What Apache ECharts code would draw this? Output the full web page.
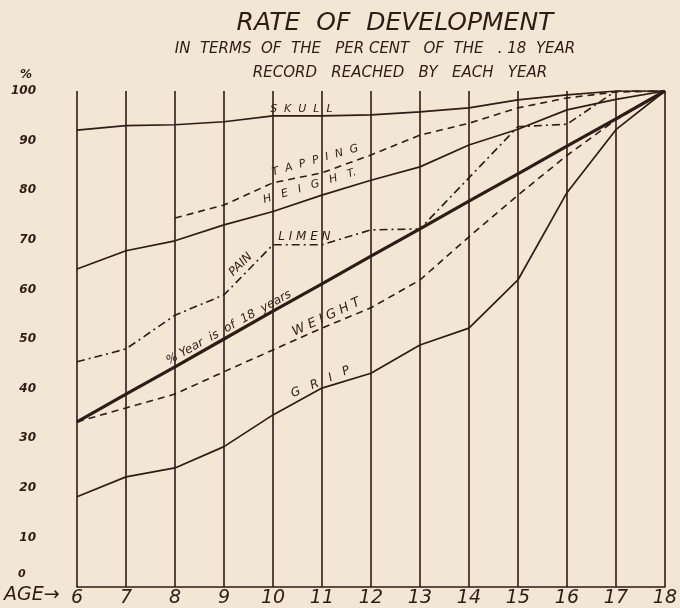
<!DOCTYPE html>
<html>
<head>
<meta charset="utf-8">
<script src="https://cdn.jsdelivr.net/npm/echarts@6/dist/echarts.min.js"></script>
<style>
  html, body { margin: 0; background: #f2e6d4; }
  #main { width: 680px; height: 608px; }
</style>
</head>
<body>
<div id="main"></div>
<script>
// ages on the x axis and percent of the 18 year record for each trait
const ages = [6, 7, 8, 9, 10, 11, 12, 13, 14, 15, 16, 17, 18];
const skull = [92.1, 93.0, 93.2, 93.8, 95.0, 95.0, 95.2, 95.8, 96.6, 98.2, 99.2, 100, 100];
const tapping = [null, null, 74.4, 77.0, 81.5, 83.5, 87.1, 91.1, 93.5, 96.6, 98.6, 99.8, 100];
const height = [64.1, 67.8, 69.8, 73.0, 75.7, 79.0, 82.0, 84.7, 89.1, 92.3, 96.2, 98.3, 100];
const painLimen = [45.4, 48.0, 54.8, 58.9, 69.0, 69.0, 72.0, 72.2, 82.5, 92.8, 93.3, 100, 100];
const yearOf18 = [33.3, 38.9, 44.4, 50.0, 55.6, 61.1, 66.7, 72.2, 77.8, 83.3, 88.9, 94.4, 100];
const weight = [33.3, 36.1, 38.9, 43.4, 47.8, 52.2, 56.3, 61.9, 70.6, 79.0, 87.0, 94.2, 100];
const grip = [18.2, 22.2, 24.0, 28.3, 34.7, 40.1, 43.1, 48.8, 52.2, 61.9, 79.5, 92.2, 100];

const ink = '#2b1d17';
const hand = '"DejaVu Sans", sans-serif';

function pts(vals) {
    return ages.map((a, i) => [a, vals[i]]).filter(p => p[1] != null);
}

function line(name, vals, width, type) {
    return {
        name: name,
        type: 'line',
        data: pts(vals),
        symbol: 'none',
        silent: true,
        lineStyle: { color: ink, width: width, type: type }
    };
}

const chart = echarts.init(document.getElementById('main'));

chart.setOption({
    backgroundColor: '#f2e6d4',
    animation: false,
    title: [
        { text: 'RATE  OF  DEVELOPMENT', left: 390, top: 6, textAlign: 'center',
          textStyle: { fontFamily: hand, fontStyle: 'italic', fontWeight: 'normal', fontSize: 25, color: ink } },
        { text: 'IN  TERMS  OF  THE   PER CENT   OF  THE   . 18  YEAR', left: 370, top: 37, textAlign: 'center',
          textStyle: { fontFamily: hand, fontStyle: 'italic', fontWeight: 'normal', fontSize: 15, color: ink } },
        { text: 'RECORD   REACHED   BY   EACH   YEAR', left: 395, top: 61, textAlign: 'center',
          textStyle: { fontFamily: hand, fontStyle: 'italic', fontWeight: 'normal', fontSize: 15, color: ink } }
    ],
    grid: { left: 77, right: 11, top: 91, bottom: 21 },
    xAxis: {
        type: 'value', min: 6, max: 18, interval: 1,
        axisLine: { lineStyle: { color: ink, width: 1.6 } },
        axisTick: { show: false },
        splitLine: { show: true, lineStyle: { color: ink, width: 1.6 } },
        axisLabel: { color: ink, fontFamily: hand, fontStyle: 'italic', fontSize: 19, margin: 2 }
    },
    yAxis: {
        type: 'value', min: 0, max: 100, interval: 10,
        axisLine: { show: false },
        axisTick: { show: false },
        splitLine: { show: false },
        axisLabel: {
            color: ink, fontFamily: hand, fontStyle: 'italic', fontWeight: 'bold', fontSize: 12, margin: 41,
            formatter: v => (v === 0 ? '' : String(v))
        }
    },
    series: [
        line('Skull', skull, 1.7, 'solid'),
        line('Tapping', tapping, 1.6, [7, 5]),
        line('Height', height, 1.7, 'solid'),
        line('Pain Limen', painLimen, 1.6, [8, 4, 2, 4]),
        line('% Year is of 18 years', yearOf18, 3.2, 'solid'),
        line('Weight', weight, 1.6, [7, 5]),
        line('Grip', grip, 1.7, 'solid')
    ]
});

// hand lettering along the curves, anchored in data units
const notes = [
    { text: 'S  K  U  L  L', at: [10.58, 96.3], rot: 0, size: 11 },
    { text: 'T  A  P  P  I  N  G', at: [10.86, 86.0], rot: 16, size: 11 },
    { text: 'H   E   I   G   H   T.', at: [10.75, 80.8], rot: 17, size: 11 },
    { text: 'PAIN', at: [9.34, 65.0], rot: 45, size: 12 },
    { text: 'L I M E N', at: [10.64, 70.5], rot: 0, size: 12 },
    { text: '% Year  is  of  18  years', at: [9.1, 52.3], rot: 29, size: 12 },
    { text: 'W E I G H T', at: [11.09, 54.4], rot: 25, size: 13 },
    { text: 'G   R   I   P', at: [10.97, 41.3], rot: 23, size: 12 }
];

const marks = notes.map(n => {
    const p = chart.convertToPixel({ gridIndex: 0 }, n.at);
    return {
        type: 'text', x: p[0], y: p[1], rotation: n.rot * Math.PI / 180, silent: true,
        style: { text: n.text, fill: ink, align: 'center', verticalAlign: 'middle',
                 font: 'italic ' + n.size + 'px ' + hand }
    };
});

marks.push(
    { type: 'text', left: 20, top: 69, silent: true,
      style: { text: '%', fill: ink, font: 'italic bold 12px ' + hand } },
    { type: 'text', left: 18, top: 569, silent: true,
      style: { text: '0', fill: ink, font: 'italic bold 11px ' + hand } },
    { type: 'text', left: 4, top: 586, silent: true,
      style: { text: 'AGE\u2192', fill: ink, font: 'italic 19px ' + hand } }
);

chart.setOption({ graphic: marks });
</script>
</body>
</html>
